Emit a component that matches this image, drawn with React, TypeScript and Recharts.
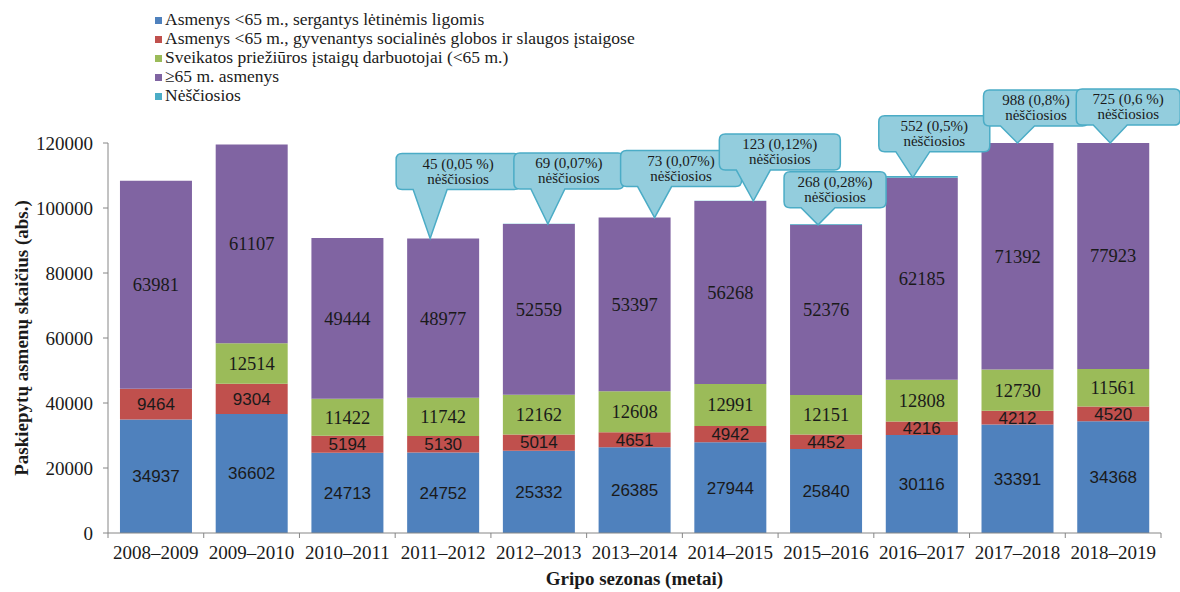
import React from 'react';
import { BarChart, Bar, XAxis, YAxis, Legend, LabelList } from 'recharts';

const SEASONS = [
  '2008–2009', '2009–2010', '2010–2011', '2011–2012', '2012–2013', '2013–2014',
  '2014–2015', '2015–2016', '2016–2017', '2017–2018', '2018–2019',
];
const CHRONIC = [34937, 36602, 24713, 24752, 25332, 26385, 27944, 25840, 30116, 33391, 34368];
const CARE_HOMES = [9464, 9304, 5194, 5130, 5014, 4651, 4942, 4452, 4216, 4212, 4520];
const HEALTH_WORKERS = [null, 12514, 11422, 11742, 12162, 12608, 12991, 12151, 12808, 12730, 11561];
const ELDERLY = [63981, 61107, 49444, 48977, 52559, 53397, 56268, 52376, 62185, 71392, 77923];
const PREGNANT = [null, null, null, 45, 69, 73, 123, 268, 552, 988, 725];
const PREGNANT_PCT = [null, null, null, '0,05 %', '0,07%', '0,07%', '0,12%', '0,28%', '0,5%', '0,8%', '0,6 %'];
const Y_TICKS = [0, 20000, 40000, 60000, 80000, 100000, 120000];

const SERIES_NAMES = [
  'Asmenys <65 m., sergantys lėtinėmis ligomis',
  'Asmenys <65 m., gyvenantys socialinės globos ir slaugos įstaigose',
  'Sveikatos priežiūros įstaigų darbuotojai (<65 m.)',
  '≥65 m. asmenys',
  'Nėščiosios',
];
const COLORS = ['#4F81BD', '#C0504D', '#9BBB59', '#8064A2', '#4BACC6'];

// callout placement per season: tip shift from bar centre, gap above bar, box width
const CALLOUT_LAYOUT = [
  null, null, null,
  { dx: -13, lift: 49, w: 124 },
  { dx: 9, lift: 35, w: 110 },
  { dx: 20, lift: 31, w: 121 },
  { dx: 23, lift: 31, w: 121 },
  { dx: -8, lift: 17, w: 102 },
  { dx: -9, lift: 26, w: 111 },
  { dx: 0, lift: 17, w: 105 },
  { dx: -3, lift: 18, w: 104 },
];

const W = 1180;
const H = 592;
const LEFT = 108;
const RIGHT = 19;
const TOP = 143;
const BOTTOM = 533;
const BAND = (W - LEFT - RIGHT) / SEASONS.length;
const SERIF = '"Liberation Serif", "Times New Roman", serif';
const SANS = '"Liberation Sans", Arial, sans-serif';
const AXIS_GREY = '#868686';
const INK = '#1a1a1a';

const data = SEASONS.map((season, i) => ({
  season,
  chronic: CHRONIC[i],
  care: CARE_HOMES[i],
  workers: HEALTH_WORKERS[i],
  elderly: ELDERLY[i],
  pregnant: PREGNANT[i],
}));

const centerLabel = (font: string, size: number) => (props: any) => {
  const { x, y, width, height, value } = props;
  if (value == null) return null;
  const top = Math.max(y, TOP);
  const cy = (top + y + height) / 2;
  return (
    <text x={x + width / 2} y={cy} dy={size * 0.35} textAnchor="middle" fontSize={size} fontFamily={font} fill={INK}>
      {value}
    </text>
  );
};

// drawn from the top (purple) segment; the pregnant segment is under a pixel tall
const Callout = (props: any) => {
  const { x, y, width, value } = props;
  if (value == null) return null;
  const i = PREGNANT.indexOf(value);
  const layout = CALLOUT_LAYOUT[i];
  if (i < 0 || !layout) return null;
  const tx = x + width / 2 + layout.dx;
  const ty = Math.max(y, TOP);
  const bh = 36;
  const bw = layout.w;
  const L = tx - 34;
  const T = ty - layout.lift - bh;
  const B = T + bh;
  const r = 6;
  const d = [
    `M${L + r},${T}`, `H${L + bw - r}`, `Q${L + bw},${T} ${L + bw},${T + r}`,
    `V${B - r}`, `Q${L + bw},${B} ${L + bw - r},${B}`,
    `H${tx + 17}`, `L${tx},${ty}`, `L${tx - 17},${B}`,
    `H${L + r}`, `Q${L},${B} ${L},${B - r}`, `V${T + r}`, `Q${L},${T} ${L + r},${T}`, 'Z',
  ].join(' ');
  return (
    <g>
      <path d={d} fill="#93CDDD" stroke="#4BACC6" strokeWidth={1.5} />
      <text x={L + bw / 2} y={T + 15} textAnchor="middle" fontSize={15} fontFamily={SERIF} fill={INK}>
        {`${value} (${PREGNANT_PCT[i]})`}
      </text>
      <text x={L + bw / 2} y={T + 30} textAnchor="middle" fontSize={15} fontFamily={SERIF} fill={INK}>
        nėščiosios
      </text>
    </g>
  );
};

const SeasonTick = (props: any) => {
  const { x, payload, index } = props;
  return (
    <g>
      {index === 0 && <line x1={x - BAND / 2} x2={x - BAND / 2} y1={BOTTOM} y2={BOTTOM + 5} stroke={AXIS_GREY} />}
      <line x1={x + BAND / 2} x2={x + BAND / 2} y1={BOTTOM} y2={BOTTOM + 5} stroke={AXIS_GREY} />
      <text x={x} y={BOTTOM + 26} textAnchor="middle" fontSize={19} fontFamily={SERIF} fill={INK}>
        {payload.value}
      </text>
    </g>
  );
};

const XTitle = () => (
  <text x={LEFT + (W - LEFT - RIGHT) / 2} y={585} textAnchor="middle" fontSize={19} fontWeight="bold" fontFamily={SERIF} fill={INK}>
    Gripo sezonas (metai)
  </text>
);

const YTitle = () => {
  const cy = (TOP + BOTTOM) / 2;
  return (
    <text
      x={22}
      y={cy}
      dy={6}
      transform={`rotate(-90 22 ${cy})`}
      textAnchor="middle"
      fontSize={19}
      fontWeight="bold"
      fontFamily={SERIF}
      fill={INK}
    >
      Paskiepytų asmenų skaičius (abs.)
    </text>
  );
};

const LegendBox = () => (
  <div style={{ fontFamily: SERIF, fontSize: 17.5, lineHeight: '19px', color: INK, whiteSpace: 'nowrap' }}>
    {SERIES_NAMES.map((name, i) => (
      <div key={name}>
        <span style={{ display: 'inline-block', width: 7, height: 7, background: COLORS[i], marginRight: 3, verticalAlign: 'middle' }} />
        {name}
      </div>
    ))}
  </div>
);

export default function App() {
  return (
    <div style={{ position: 'absolute', left: 0, top: 0, background: '#fff' }}>
      <BarChart width={W} height={H} data={data} margin={{ top: TOP, right: RIGHT, left: 0, bottom: 0 }} barCategoryGap="12.5%">
        <XAxis
          dataKey="season"
          height={H - BOTTOM}
          tickLine={false}
          axisLine={{ stroke: AXIS_GREY }}
          tick={<SeasonTick />}
          interval={0}
          label={<XTitle />}
        />
        <YAxis
          width={LEFT}
          domain={[0, 120000]}
          ticks={Y_TICKS}
          allowDataOverflow
          tickSize={5}
          tickMargin={10}
          axisLine={{ stroke: AXIS_GREY }}
          tickLine={{ stroke: AXIS_GREY }}
          tick={{ fontSize: 19, fontFamily: SERIF, fill: INK }}
          label={<YTitle />}
        />
        <Legend
          layout="vertical"
          align="center"
          verticalAlign="middle"
          content={<LegendBox />}
          wrapperStyle={{ top: 10, left: 155, width: 'auto', height: 'auto' }}
        />
        <Bar dataKey="chronic" name={SERIES_NAMES[0]} stackId="a" fill={COLORS[0]} isAnimationActive={false}>
          <LabelList dataKey="chronic" content={centerLabel(SANS, 17)} />
        </Bar>
        <Bar dataKey="care" name={SERIES_NAMES[1]} stackId="a" fill={COLORS[1]} isAnimationActive={false}>
          <LabelList dataKey="care" content={centerLabel(SANS, 17)} />
        </Bar>
        <Bar dataKey="workers" name={SERIES_NAMES[2]} stackId="a" fill={COLORS[2]} isAnimationActive={false}>
          <LabelList dataKey="workers" content={centerLabel(SERIF, 18.5)} />
        </Bar>
        <Bar dataKey="elderly" name={SERIES_NAMES[3]} stackId="a" fill={COLORS[3]} isAnimationActive={false}>
          <LabelList dataKey="elderly" content={centerLabel(SERIF, 18.5)} />
          <LabelList dataKey="pregnant" content={<Callout />} />
        </Bar>
        <Bar dataKey="pregnant" name={SERIES_NAMES[4]} stackId="a" fill={COLORS[4]} isAnimationActive={false} />
      </BarChart>
    </div>
  );
}
